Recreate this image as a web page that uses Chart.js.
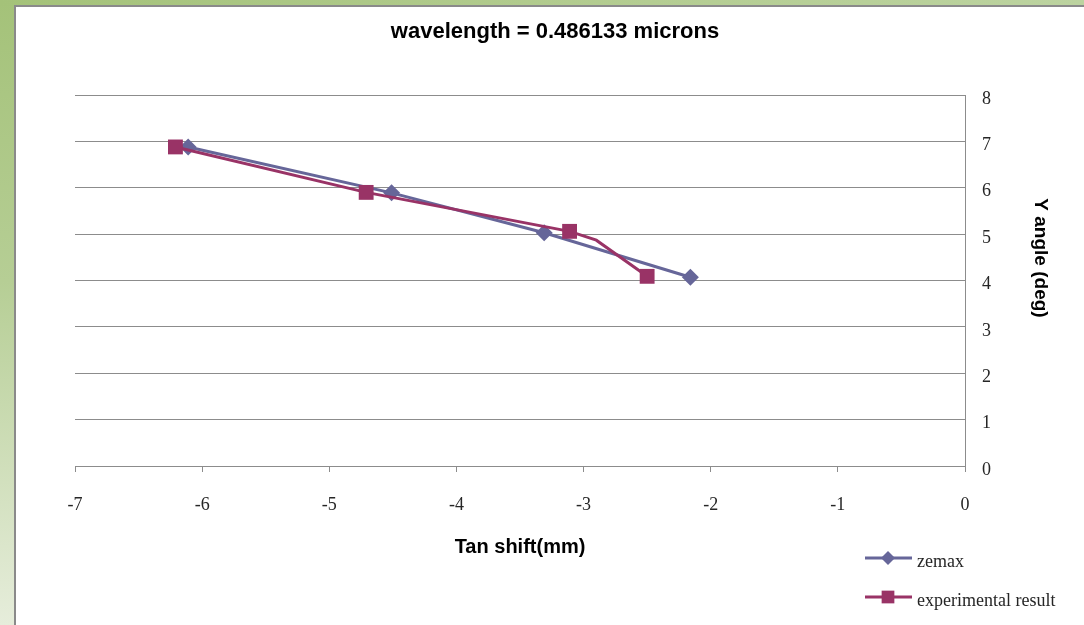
<!DOCTYPE html>
<html lang="en">
<head>
    <meta charset="UTF-8">
    <title>wavelength = 0.486133 microns</title>
    <script src="https://cdn.jsdelivr.net/npm/chart.js"></script>
    <style>
        html, body {
            margin: 0;
            padding: 0;
            width: 1084px;
            height: 625px;
            overflow: hidden;
        }
        /* green slide frame behind the chart */
        body {
            position: relative;
            background: linear-gradient(180deg, #a4c279 0%, #b6ce95 45%, #e6eddb 100%);
        }
        .top-strip {
            position: absolute;
            left: 0; top: 0;
            width: 1084px; height: 6px;
            background: linear-gradient(90deg, #a4c279 0%, #b4cd92 60%, #bcd3a0 100%);
        }
        .panel {
            position: absolute;
            left: 14px; top: 5px;
            width: 1070px; height: 620px;
            background: #fff;
            border-left: 2px solid #8a8a8a;
            border-top: 2px solid #8a8a8a;
        }
        #chart {
            position: absolute;
            left: 0; top: 0;
        }
    </style>
</head>
<body>
    <div class="top-strip"></div>
    <div class="panel">
        <canvas id="chart" width="1068" height="618"></canvas>
    </div>

    <script>
        // Data
        const chartTitle = 'wavelength = 0.486133 microns';
        const xTitle = 'Tan shift(mm)';
        const yTitle = 'Y angle (deg)';

        const seriesNames = ['zemax', 'experimental result'];

        const zemaxX = [-6.11, -4.51, -3.31, -2.16];
        const zemaxY = [6.88, 5.89, 5.03, 4.07];

        // the 4th point has no marker, only a bend in the line
        const expX = [-6.21, -4.71, -3.11, -2.90, -2.50];
        const expY = [6.88, 5.90, 5.06, 4.87, 4.09];
        const expMarker = [true, true, true, false, true];

        const xTicks = [-7, -6, -5, -4, -3, -2, -1, 0];
        const yTicks = [0, 1, 2, 3, 4, 5, 6, 7, 8];

        const blue = '#666699';
        const red = '#993366';
        const gridColor = '#8c8c8c';
        const textColor = '#262626';
        const serif = '"Liberation Serif", "DejaVu Serif", serif';
        const sans = '"Liberation Sans", Arial, sans-serif';

        function toPoints(xs, ys) {
            return xs.map((x, i) => ({ x: x, y: ys[i] }));
        }

        // Title, rotated y title and legend are drawn here
        const extrasPlugin = {
            id: 'extras',
            afterDraw(chart) {
                const ctx = chart.ctx;
                ctx.save();
                ctx.fillStyle = '#000';
                ctx.textAlign = 'center';
                ctx.textBaseline = 'middle';

                ctx.font = 'bold 22px ' + sans;
                ctx.fillText(chartTitle, 539, 25);

                ctx.save();
                ctx.translate(1024, 251);
                ctx.rotate(Math.PI / 2);
                ctx.font = 'bold 19px ' + sans;
                ctx.fillText(yTitle, 0, 0);
                ctx.restore();

                // legend
                const rowsY = [551, 590];
                chart.data.datasets.forEach((ds, i) => {
                    const y = rowsY[i];
                    ctx.strokeStyle = ds.borderColor;
                    ctx.lineWidth = 3;
                    ctx.beginPath();
                    ctx.moveTo(849, y);
                    ctx.lineTo(896, y);
                    ctx.stroke();
                    ctx.fillStyle = ds.backgroundColor;
                    Chart.helpers.drawPoint(ctx, {
                        pointStyle: ds.pointStyle,
                        radius: ds.legendRadius,
                        borderWidth: 0,
                        rotation: 0
                    }, 872, y);
                    ctx.fillStyle = textColor;
                    ctx.textAlign = 'left';
                    ctx.font = '18px ' + serif;
                    ctx.fillText(ds.label, 901, y + 4);
                });
                ctx.restore();
            }
        };

        new Chart(document.getElementById('chart'), {
            type: 'scatter',
            data: {
                datasets: [
                    {
                        label: seriesNames[0],
                        data: toPoints(zemaxX, zemaxY),
                        showLine: true,
                        borderColor: blue,
                        backgroundColor: blue,
                        borderWidth: 3,
                        pointStyle: 'rectRot',
                        pointRadius: 8.5,
                        legendRadius: 7,
                        pointBorderWidth: 0,
                        order: 2
                    },
                    {
                        label: seriesNames[1],
                        data: toPoints(expX, expY),
                        showLine: true,
                        borderColor: red,
                        backgroundColor: red,
                        borderWidth: 3,
                        pointStyle: 'rect',
                        pointRadius: expMarker.map(m => m ? 10.5 : 0),
                        legendRadius: 9,
                        pointBorderWidth: 0,
                        order: 1
                    }
                ]
            },
            options: {
                responsive: false,
                animation: false,
                layout: {
                    padding: { left: 59, top: 88, right: 30, bottom: 59 }
                },
                plugins: {
                    legend: { display: false },
                    title: { display: false },
                    tooltip: { enabled: false }
                },
                scales: {
                    x: {
                        type: 'linear',
                        position: 'bottom',
                        min: -7,
                        max: 0,
                        afterBuildTicks: (scale) => {
                            scale.ticks = xTicks.map(v => ({ value: v }));
                        },
                        afterFit: (scale) => { scale.height = 100; },
                        grid: {
                            drawOnChartArea: false,
                            drawTicks: true,
                            tickLength: 6,
                            color: gridColor
                        },
                        border: { display: true, color: gridColor, width: 1 },
                        ticks: {
                            padding: 22,
                            color: textColor,
                            font: { family: serif, size: 18 }
                        },
                        title: {
                            display: true,
                            text: xTitle,
                            color: '#000',
                            font: { family: sans, size: 20, weight: 'bold' },
                            padding: { top: 0, bottom: 7 }
                        }
                    },
                    y: {
                        type: 'linear',
                        position: 'right',
                        min: 0,
                        max: 8,
                        afterBuildTicks: (scale) => {
                            scale.ticks = yTicks.map(v => ({ value: v }));
                        },
                        afterFit: (scale) => { scale.width = 89; },
                        grid: {
                            drawTicks: false,
                            color: gridColor
                        },
                        border: { display: true, color: gridColor, width: 1 },
                        ticks: {
                            padding: 17,
                            labelOffset: 4,
                            color: textColor,
                            font: { family: serif, size: 18 }
                        }
                    }
                }
            },
            plugins: [extrasPlugin]
        });
    </script>
</body>
</html>
